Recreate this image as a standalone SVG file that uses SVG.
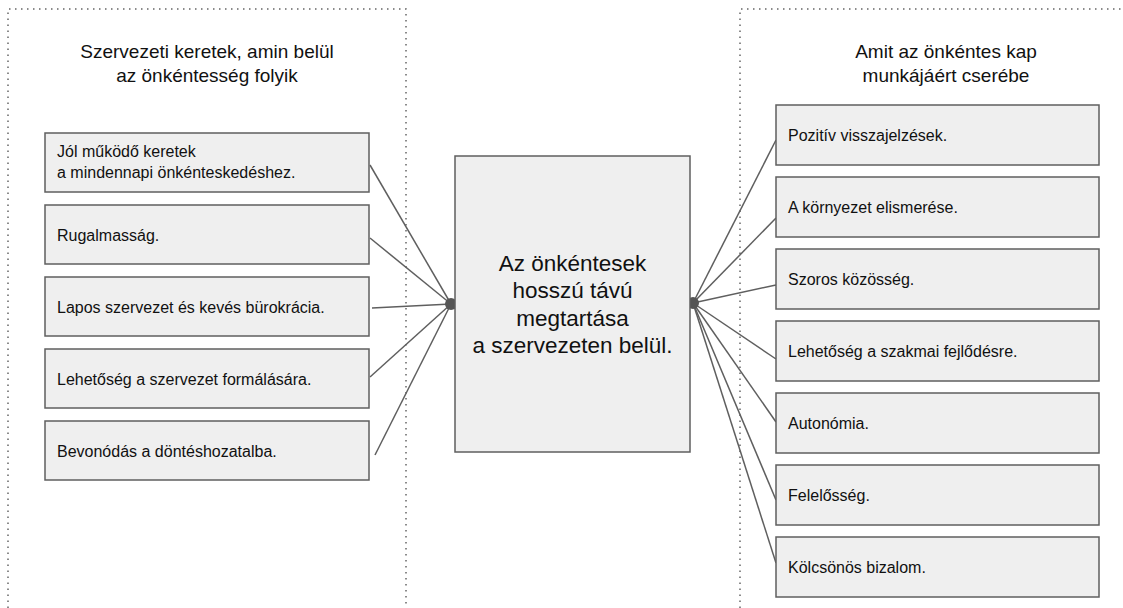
<svg xmlns="http://www.w3.org/2000/svg" width="1123" height="608" viewBox="0 0 1123 608">
<style>
.frame{fill:none;stroke:#666;stroke-width:1.5;stroke-dasharray:1.5 4.5}
.box{fill:#efefef;stroke:#5f5f5f;stroke-width:1.5}
.t{font-family:"Liberation Sans",Arial,sans-serif;font-size:16px;fill:#111}
.h{font-family:"Liberation Sans",Arial,sans-serif;font-size:19px;fill:#111;text-anchor:middle}
.c{font-family:"Liberation Sans",Arial,sans-serif;font-size:22.5px;fill:#111;text-anchor:middle}
.ln{stroke:#5f5f5f;stroke-width:1.5;fill:none}
.dot{fill:#555}
</style>
<g id="frames">
<path class="frame" d="M8,608 V9 H406 V608"/>
<path class="frame" d="M740,608 V9 H1123"/>
</g>
<g id="header-left">
<text class="h" x="207" y="58">Szervezeti keretek, amin belül</text>
<text class="h" x="207" y="82">az önkéntesség folyik</text>
</g>
<g id="header-right">
<text class="h" x="946" y="58">Amit az önkéntes kap</text>
<text class="h" x="946" y="82">munkájáért cserébe</text>
</g>
<g id="connectors">
<line class="ln" x1="370" y1="165" x2="451" y2="304"/>
<line class="ln" x1="370" y1="238" x2="451" y2="304"/>
<line class="ln" x1="372" y1="308" x2="451" y2="304"/>
<line class="ln" x1="370" y1="377" x2="451" y2="304"/>
<line class="ln" x1="375" y1="455" x2="451" y2="304"/>
<line class="ln" x1="776" y1="140" x2="693" y2="303"/>
<line class="ln" x1="776" y1="218" x2="693" y2="303"/>
<line class="ln" x1="776" y1="285" x2="693" y2="303"/>
<line class="ln" x1="776" y1="359" x2="693" y2="303"/>
<line class="ln" x1="776" y1="422" x2="693" y2="303"/>
<line class="ln" x1="776" y1="500" x2="693" y2="303"/>
<line class="ln" x1="776" y1="563" x2="693" y2="303"/>
<circle class="dot" cx="451" cy="304" r="6"/>
<circle class="dot" cx="693" cy="303" r="6"/>
</g>
<g id="center">
<rect class="box" x="455" y="156" width="235" height="296"/>
<text class="c" x="572.5" y="271">Az önkéntesek</text>
<text class="c" x="572.5" y="298">hosszú távú</text>
<text class="c" x="572.5" y="326">megtartása</text>
<text class="c" x="572.5" y="353">a szervezeten belül.</text>
</g>
<g id="l1"><rect class="box" x="45" y="133" width="324" height="59"/><text class="t" x="57" y="157">Jól működő keretek</text><text class="t" x="57" y="178">a mindennapi önkénteskedéshez.</text></g>
<g id="l2"><rect class="box" x="45" y="205" width="324" height="59"/><text class="t" x="57" y="240.5">Rugalmasság.</text></g>
<g id="l3"><rect class="box" x="45" y="277" width="324" height="59"/><text class="t" x="57" y="312.5">Lapos szervezet és kevés bürokrácia.</text></g>
<g id="l4"><rect class="box" x="45" y="349" width="324" height="59"/><text class="t" x="57" y="384.5">Lehetőség a szervezet formálására.</text></g>
<g id="l5"><rect class="box" x="45" y="421" width="324" height="59"/><text class="t" x="57" y="456.5">Bevonódás a döntéshozatalba.</text></g>
<g id="r1"><rect class="box" x="776" y="105" width="323" height="60"/><text class="t" x="788" y="141">Pozitív visszajelzések.</text></g>
<g id="r2"><rect class="box" x="776" y="177" width="323" height="60"/><text class="t" x="788" y="213">A környezet elismerése.</text></g>
<g id="r3"><rect class="box" x="776" y="249" width="323" height="60"/><text class="t" x="788" y="285">Szoros közösség.</text></g>
<g id="r4"><rect class="box" x="776" y="321" width="323" height="60"/><text class="t" x="788" y="357">Lehetőség a szakmai fejlődésre.</text></g>
<g id="r5"><rect class="box" x="776" y="393" width="323" height="60"/><text class="t" x="788" y="429">Autonómia.</text></g>
<g id="r6"><rect class="box" x="776" y="465" width="323" height="60"/><text class="t" x="788" y="501">Felelősség.</text></g>
<g id="r7"><rect class="box" x="776" y="537" width="323" height="60"/><text class="t" x="788" y="573">Kölcsönös bizalom.</text></g>
</svg>
